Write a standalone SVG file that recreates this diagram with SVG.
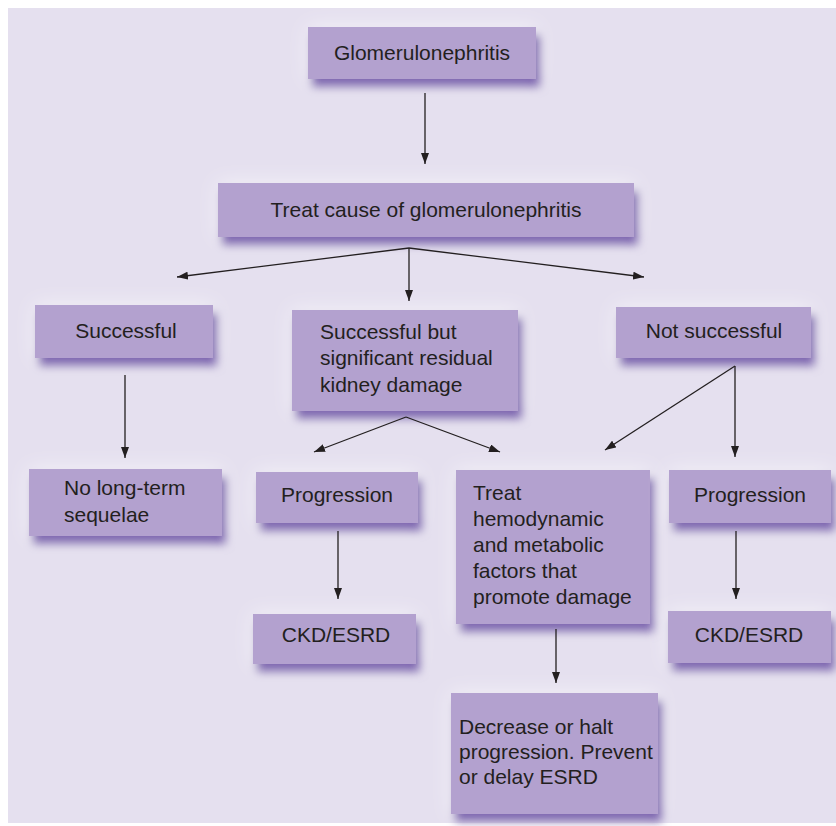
<svg xmlns="http://www.w3.org/2000/svg" width="836" height="826" viewBox="0 0 836 826">
<style>
.box{fill:#b3a1cf;filter:url(#sh);}
.t{font-family:"Liberation Sans",Arial,sans-serif;font-size:21px;fill:#231f20;}
.c{text-anchor:middle;}
.ln{stroke:#231f20;stroke-width:1.3;fill:none;marker-end:url(#ah);}
</style>
<defs>
<filter id="sh" x="-25%" y="-40%" width="150%" height="190%">
<feGaussianBlur in="SourceAlpha" stdDeviation="10" result="g"/>
<feFlood flood-color="#ffffff" flood-opacity="0.6"/>
<feComposite in2="g" operator="in" result="glow"/>
<feGaussianBlur in="SourceAlpha" stdDeviation="5" result="b"/>
<feOffset in="b" dx="4" dy="8" result="o"/>
<feFlood flood-color="#6f52a8" flood-opacity="0.9"/>
<feComposite in2="o" operator="in" result="s"/>
<feMerge><feMergeNode in="glow"/><feMergeNode in="s"/><feMergeNode in="SourceGraphic"/></feMerge>
</filter>
<marker id="ah" markerWidth="11" markerHeight="8" refX="11" refY="4" orient="auto" markerUnits="userSpaceOnUse">
<path d="M0,0 L11,4 L0,8 z" fill="#231f20"/>
</marker>
</defs>
<rect x="0" y="0" width="836" height="826" fill="#ffffff"/>
<rect x="8" y="8" width="828" height="815" fill="#e5e0ef"/>

<g id="n1"><rect class="box" x="308" y="27" width="228" height="52"/><text class="t c" x="422" y="60">Glomerulonephritis</text></g>
<g id="n2"><rect class="box" x="218" y="183" width="416" height="54"/><text class="t c" x="426" y="217">Treat cause of glomerulonephritis</text></g>
<g id="n3"><rect class="box" x="35" y="305" width="178" height="53"/><text class="t c" x="126" y="338">Successful</text></g>
<g id="n4"><rect class="box" x="292" y="310" width="226" height="101"/><text class="t" x="320" y="339">Successful but</text><text class="t" x="320" y="365">significant residual</text><text class="t" x="320" y="392">kidney damage</text></g>
<g id="n5"><rect class="box" x="616" y="307" width="195" height="51"/><text class="t c" x="714" y="338">Not successful</text></g>
<g id="n6"><rect class="box" x="29" y="469" width="193" height="67"/><text class="t" x="64" y="495">No long-term</text><text class="t" x="64" y="522">sequelae</text></g>
<g id="n7"><rect class="box" x="256" y="472" width="162" height="51"/><text class="t c" x="337" y="502">Progression</text></g>
<g id="n8"><rect class="box" x="456" y="470" width="194" height="154"/><text class="t" x="473" y="500">Treat</text><text class="t" x="473" y="526">hemodynamic</text><text class="t" x="473" y="552">and metabolic</text><text class="t" x="473" y="578">factors that</text><text class="t" x="473" y="604">promote damage</text></g>
<g id="n9"><rect class="box" x="669" y="470" width="162" height="53"/><text class="t c" x="750" y="502">Progression</text></g>
<g id="n10"><rect class="box" x="253" y="614" width="163" height="50"/><text class="t c" x="336" y="642">CKD/ESRD</text></g>
<g id="n11"><rect class="box" x="668" y="611" width="163" height="52"/><text class="t c" x="749" y="642">CKD/ESRD</text></g>
<g id="n12"><rect class="box" x="451" y="693" width="207" height="121"/><text class="t" x="459" y="734">Decrease or halt</text><text class="t" x="459" y="759">progression. Prevent</text><text class="t" x="459" y="784">or delay ESRD</text></g>

<g id="connectors">
<line class="ln" x1="425" y1="93" x2="425" y2="164"/>
<line class="ln" x1="409" y1="248" x2="177" y2="277"/>
<line class="ln" x1="409" y1="248" x2="644" y2="277"/>
<line class="ln" x1="409" y1="248" x2="409" y2="301"/>
<line class="ln" x1="125" y1="375" x2="125" y2="458"/>
<line class="ln" x1="406" y1="417" x2="314" y2="452"/>
<line class="ln" x1="406" y1="417" x2="500" y2="452"/>
<line class="ln" x1="735" y1="366" x2="605" y2="450"/>
<line class="ln" x1="735" y1="366" x2="735" y2="457"/>
<line class="ln" x1="338" y1="531" x2="338" y2="599"/>
<line class="ln" x1="736" y1="531" x2="736" y2="599"/>
<line class="ln" x1="556" y1="629" x2="556" y2="683"/>
</g>
</svg>
